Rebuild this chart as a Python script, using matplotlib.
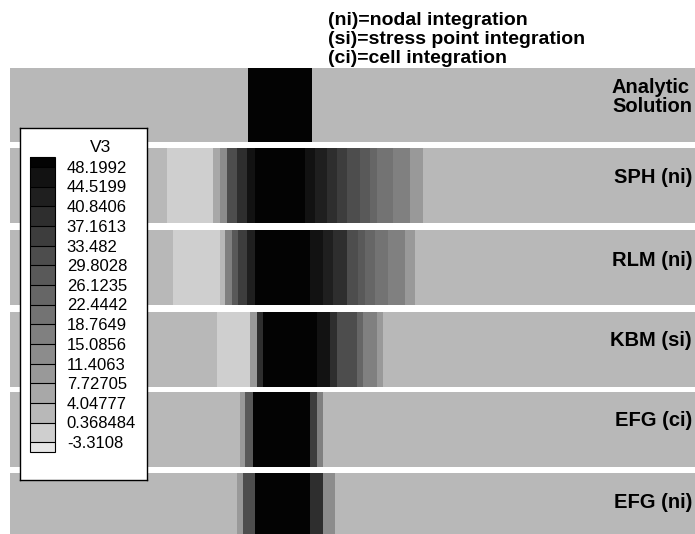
import matplotlib
matplotlib.use('Agg')
import matplotlib.pyplot as plt
from matplotlib.colors import ListedColormap, BoundaryNorm

plt.rcParams['font.family'] = ['Liberation Sans', 'DejaVu Sans']

# contour levels of V3 and the grey for each band (below first .. above last)
levels = [-3.3108, 0.368484, 4.04777, 7.72705, 11.4063, 15.0856, 18.7649, 22.4442,
          26.1235, 29.8028, 33.482, 37.1613, 40.8406, 44.5199, 48.1992]
grays = [0.90, 0.81, 0.72, 0.66, 0.60, 0.55, 0.50, 0.45,
         0.40, 0.35, 0.30, 0.24, 0.18, 0.12, 0.07, 0.01]

# V3 along x (0..68.5) for each method: band edges and value in each band
ana_x = [0, 23.8, 30.2, 68.5]
ana_v = [2.2, 50, 2.2]
sph_x = [0, 15.7, 20.3, 21.0, 21.7, 22.7, 23.7, 24.5, 29.5, 30.5, 31.7, 32.7, 33.7,
         35.0, 36.0, 36.7, 38.3, 40.0, 41.3, 68.5]
sph_v = [2.2, -1.5, 5.9, 13.2, 31.6, 39.0, 46.4, 50, 46.4, 42.7, 39.0, 35.3, 31.6,
         28.0, 24.3, 20.6, 16.9, 9.6, 2.2]
rlm_x = [0, 16.3, 21.0, 21.5, 22.2, 22.8, 23.7, 24.5, 30.0, 31.3, 32.3, 33.7, 34.8,
         35.5, 36.5, 37.8, 39.5, 40.5, 68.5]
rlm_v = [2.2, -1.5, 2.2, 16.9, 28.0, 35.3, 42.7, 50, 46.4, 42.7, 39.0, 31.6, 28.0,
         24.3, 20.6, 16.9, 9.6, 2.2]
kbm_x = [0, 20.7, 24.0, 24.7, 25.3, 30.7, 32.0, 32.7, 34.7, 35.3, 36.7, 37.3, 68.5]
kbm_v = [2.2, -1.5, 9.6, 39.0, 50, 46.4, 39.0, 31.6, 24.3, 16.9, 9.6, 2.2]
efgc_x = [0, 23.0, 23.5, 24.3, 30.0, 30.7, 31.3, 68.5]
efgc_v = [2.2, 9.6, 28.0, 50, 35.3, 16.9, 2.2]
efgn_x = [0, 22.7, 23.3, 24.5, 30.0, 31.3, 32.5, 68.5]
efgn_v = [2.2, 9.6, 31.6, 50, 39.0, 13.2, 2.2]

names = ['Analytic\nSolution', 'SPH (ni)', 'RLM (ni)', 'KBM (si)', 'EFG (ci)', 'EFG (ni)']
profiles = [(ana_x, ana_v), (sph_x, sph_v), (rlm_x, rlm_v),
            (kbm_x, kbm_v), (efgc_x, efgc_v), (efgn_x, efgn_v)]

W, H = 695, 534
fig = plt.figure(figsize=(W/100, H/100), dpi=100)

def px_axes(x0, y0, x1, y1, **kw):
    return fig.add_axes([x0/W, 1-y1/H, (x1-x0)/W, (y1-y0)/H], **kw)

cmap = ListedColormap([str(g) for g in grays])
norm = BoundaryNorm(levels, ncolors=len(grays), extend='both')

rows = [(68, 142), (148, 223), (230, 305), (312, 387), (392, 467), (473, 534)]
label_y = [97, 178, 260, 340, 420, 503]
for (y0, y1), (xs, vs), name, ly in zip(rows, profiles, names, label_y):
    ax = px_axes(10, y0, 695, y1)
    ax.pcolormesh(xs, [0, 1], [vs], cmap=cmap, norm=norm)
    ax.set_xlim(0, 68.5); ax.set_ylim(0, 1)
    ax.axis('off')
    fig.text(692/W, 1-ly/H, name, ha='right', va='center', multialignment='left',
             fontsize=14.5, fontweight='bold', linespacing=1.05, zorder=5)

hdr = ['(ni)=nodal integration', '(si)=stress point integration', '(ci)=cell integration']
for i, t in enumerate(hdr):
    fig.text(328/W, 1-(25+19*i)/H, t, ha='left', va='baseline',
             fontsize=14, fontweight='bold')

# legend box with the colour scale
leg = px_axes(20, 128, 147, 480, zorder=3)
leg.set_facecolor('white')
leg.set_xticks([]); leg.set_yticks([])
for s in leg.spines.values():
    s.set_linewidth(1.0)
fig.text(101/W, 1-148/H, 'V3', ha='center', va='center', fontsize=12.5, zorder=6)

cax = px_axes(30, 157, 55, 452, zorder=4)
sm = matplotlib.cm.ScalarMappable(norm=norm, cmap=cmap)
cb = fig.colorbar(sm, cax=cax, extend='both', extendrect=True,
                  extendfrac=0.5/14, drawedges=True, spacing='uniform')
cb.set_ticks(levels, labels=[f'{v:g}' for v in levels])
cb.outline.set_linewidth(0.8)
cb.dividers.set_linewidth(0.8)
cax.tick_params(length=0, pad=8.5, labelsize=12)

fig.savefig('out.png', dpi=100)
